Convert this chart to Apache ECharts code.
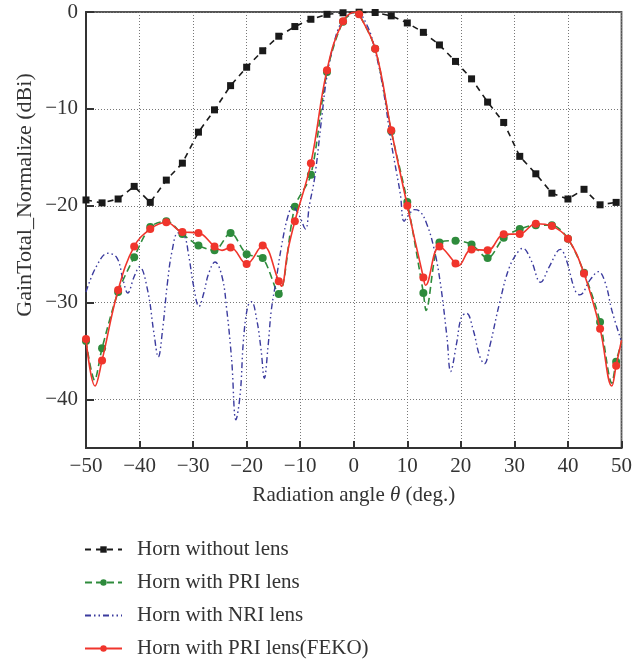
<!DOCTYPE html>
<html><head><meta charset="utf-8">
<script src="https://cdn.jsdelivr.net/npm/echarts@6/dist/echarts.min.js"></script>
<style>html,body{margin:0;padding:0;background:#fff}#c{width:635px;height:661px}</style>
</head><body><div id="c"></div>
<script>
// Angles (deg) at which the markers are placed
const markerAngles = [-50,-47,-44,-41,-38,-35,-32,-29,-26,-23,-20,-17,-14,-11,-8,-5,-2,1,4,7,10,13,16,19,22,25,28,31,34,37,40,43,46,49];
// Horn without lens (dBi)
const noLensGain = [-19.4,-19.7,-19.3,-18.0,-19.65,-17.35,-15.6,-12.4,-10.1,-7.6,-5.7,-4.0,-2.5,-1.5,-0.75,-0.24,-0.08,-0.02,-0.05,-0.4,-1.13,-2.1,-3.4,-5.1,-6.9,-9.3,-11.4,-14.9,-16.7,-18.7,-19.3,-18.3,-19.9,-19.65];
// Horn with PRI lens (markers)
const priGain = [-33.96,-34.7,-28.9,-25.3,-22.2,-21.6,-22.9,-24.1,-24.6,-22.8,-25.0,-25.4,-29.1,-20.1,-16.8,-6.2,-1.0,-0.2,-3.8,-12.3,-19.6,-29.0,-23.8,-23.6,-24.0,-25.4,-23.3,-22.4,-22.0,-22.0,-23.4,-26.9,-32.0,-36.1];
// Extra curve points of the PRI line between markers [angle, gain]
const priCurveExtra = [[-48.4,-38.0],[0.5,0],[13.5,-30.8],[48.2,-38.3],[50,-34.1]];
// Horn with PRI lens (FEKO) markers
const fekoGain = [-33.75,-35.96,-28.7,-24.2,-22.4,-21.7,-22.7,-22.8,-24.2,-24.3,-26.0,-24.1,-27.8,-21.6,-15.6,-6.0,-0.96,-0.24,-3.8,-12.2,-20.0,-27.4,-24.2,-25.95,-24.5,-24.6,-22.95,-22.9,-21.85,-22.1,-23.4,-27.0,-32.7,-36.5];
// Extra curve points of the FEKO line between markers [angle, gain]
const fekoCurveExtra = [[-48.3,-38.6],[-24.6,-24.6],[-13.5,-28.3],[-12.3,-24.6],[0.5,0],[13.4,-28.2],[19.5,-26.2],[48.2,-38.6],[50,-33.9]];
// Horn with NRI lens (curve, no markers)
const nriAngles = [-50,-48.1,-45.9,-44.2,-43.1,-42.2,-41.0,-40.0,-38.5,-37.3,-36.5,-35.7,-34.8,-33.9,-32.8,-31.7,-30.8,-29.9,-28.9,-28.0,-27.1,-25.9,-24.6,-23.7,-22.8,-22.0,-21.2,-20.6,-19.8,-19.1,-18.1,-17.3,-16.7,-16.0,-15.4,-14.5,-13.5,-12.3,-11.4,-10.2,-9.0,-8.3,-7.3,-6.0,-5.0,-3.5,-2.0,0.5,2.5,4.0,5.5,7.0,8.0,8.7,9.4,10.2,11.3,12.4,13.65,14.9,16.1,17.4,18.1,19.2,20.1,21.05,22.3,23.5,24.4,25.4,27.2,29.1,30.95,31.6,33.1,34.9,36.5,38.6,39.7,41.3,42.2,44.2,45.7,47.0,48.2,50];
const nriGain = [-28.9,-26.3,-24.9,-25.4,-27.6,-29.0,-27.3,-26.3,-28.7,-33.2,-35.6,-32.8,-28.0,-24.6,-22.8,-23.0,-25.2,-28.3,-30.4,-29.0,-27.0,-25.8,-27.3,-30.8,-35.9,-42.1,-39.4,-33.9,-30.4,-29.9,-31.8,-34.9,-37.8,-34.5,-30.8,-27.7,-24.2,-21.1,-20.1,-21.0,-22.4,-20.0,-17.1,-11.0,-6.6,-2.8,-0.9,0,-1.4,-4.0,-8.0,-13.5,-16.6,-18.8,-21.6,-21.0,-20.4,-20.6,-21.9,-24.2,-27.7,-33.5,-37.1,-34.2,-31.5,-31.1,-32.8,-35.5,-36.3,-34.5,-30.1,-26.3,-24.55,-24.4,-25.6,-27.9,-26.3,-24.5,-25.6,-28.7,-29.2,-27.6,-26.8,-28.0,-30.8,-34.0];
const seriesNames = ['Horn without lens','Horn with PRI lens','Horn with NRI lens','Horn with PRI lens(FEKO)'];

function withMarkers(angles, vals, extra) {
  const pts = angles.map((a, i) => ({ value: [a, vals[i]] }));
  extra.forEach(p => pts.push({ value: p, symbol: 'none' }));
  pts.sort((a, b) => a.value[0] - b.value[0]);
  return pts;
}
const minus = v => (v < 0 ? '\u2212' + Math.abs(v) : String(v));
const FONT = 'Liberation Serif';
const FS = 21;

const chart = echarts.init(document.getElementById('c'), null, { renderer: 'canvas' });
chart.setOption({
  animation: false,
  backgroundColor: '#fff',
  grid: { left: 86, right: 8, top: 12, bottom: 213, show: true, borderColor: '#555', borderWidth: 1.8, backgroundColor: 'transparent' },
  xAxis: {
    type: 'value', min: -50, max: 50, interval: 10,
    name: 'Radiation angle {i|θ} (deg.)', nameLocation: 'middle', nameGap: 37,
    nameTextStyle: { fontFamily: FONT, fontSize: FS, color: '#333', rich: { i: { fontFamily: FONT, fontSize: FS, fontStyle: 'italic', color: '#333' } } },
    axisLine: { onZero: false, lineStyle: { color: '#333', width: 2 } },
    axisTick: { inside: true, length: 7, lineStyle: { color: '#333', width: 2 } },
    axisLabel: { fontFamily: FONT, fontSize: FS, color: '#333', margin: 8, formatter: minus, alignMaxLabel: 'center', alignMinLabel: 'center' },
    splitLine: { show: true, lineStyle: { color: '#777', width: 1, type: [1, 2] } }
  },
  yAxis: {
    type: 'value', min: -45, max: 0, splitNumber: 5,
    axisLine: { show: true, onZero: false, lineStyle: { color: '#333', width: 2 } },
    axisTick: { show: true, inside: true, length: 8, lineStyle: { color: '#333', width: 2 } },
    axisLabel: { fontFamily: FONT, fontSize: FS, color: '#333', margin: 8, showMinLabel: false,
      formatter: v => (v === -45 ? '' : minus(v)) },
    splitLine: { show: true, lineStyle: { color: '#777', width: 1, type: [1, 2] } }
  },
  graphic: [{
    type: 'text', x: 25, y: 195, rotation: Math.PI / 2,
    style: { text: 'GainTotal_Normalize (dBi)', fontFamily: FONT, fontSize: 22, fill: '#333', align: 'center', verticalAlign: 'middle' }
  }],
  legend: {
    orient: 'vertical', left: 84, top: 539, itemWidth: 37, itemHeight: 8, itemGap: 12, padding: 0,
    textStyle: { fontFamily: FONT, fontSize: FS, color: '#333', padding: [0, 0, 0, 10] },
    data: [
      { name: seriesNames[0] },
      { name: seriesNames[1] },
      { name: seriesNames[2], itemStyle: { opacity: 0 } },
      { name: seriesNames[3] }
    ]
  },
  series: [
    { name: seriesNames[0], type: 'line', data: markerAngles.map((a, i) => [a, noLensGain[i]]),
      symbol: 'rect', symbolSize: 7, itemStyle: { color: '#1a1a1a' },
      lineStyle: { color: '#1a1a1a', width: 1.6, type: [6, 5] }, z: 2 },
    { name: seriesNames[1], type: 'line', data: withMarkers(markerAngles, priGain, priCurveExtra), smooth: 0.3,
      symbol: 'circle', symbolSize: 8, itemStyle: { color: '#2e8b3c' },
      lineStyle: { color: '#2e8b3c', width: 1.6, type: [7, 4] }, z: 3 },
    { name: seriesNames[2], type: 'line', data: nriAngles.map((a, i) => [a, nriGain[i]]), smooth: 0.4,
      showSymbol: false, symbol: 'none', itemStyle: { color: '#3b3b9e' },
      lineStyle: { color: '#3b3b9e', width: 1.4, type: [6, 3, 1.5, 3, 1.5, 3] }, z: 4 },
    { name: seriesNames[3], type: 'line', data: withMarkers(markerAngles, fekoGain, fekoCurveExtra), smooth: 0.4,
      symbol: 'circle', symbolSize: 8, itemStyle: { color: '#f0352c' },
      lineStyle: { color: '#f0352c', width: 1.6 }, z: 5 }
  ]
});
</script></body></html>
